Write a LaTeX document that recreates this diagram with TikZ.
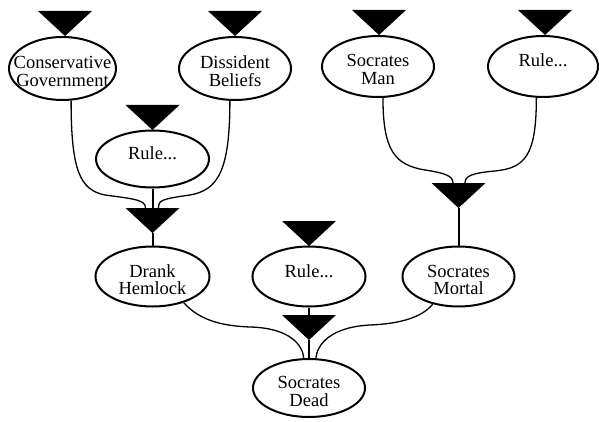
\documentclass[tikz,border=0pt]{standalone}
\usepackage{fontspec}
\setmainfont{Liberation Serif}
\usetikzlibrary{shapes.geometric,calc}

% filled downward triangle: #1 = name of its tip, #2 = tip position;
% (#1-in) is the middle of its top edge
\newcommand\gatetri[2]{%
  \coordinate (#1) at #2;
  \fill (#1) -- ++(-27,-25) -- ++(54,0) -- cycle;
  \coordinate (#1-in) at ($(#1)+(0,-25)$);}

\begin{document}
\begin{tikzpicture}[x=1pt,y=-1pt,
  prop/.style={ellipse, draw, line width=2pt, fill=white,
    inner xsep=-20pt, inner ysep=0pt, align=center,
    font=\fontsize{18.5}{17.5}\selectfont,
    text height=18.5pt, text depth=17.5pt},
  % two-line labels: box reference sits on the last line
  prop2/.style={prop, text height=36pt, text depth=0pt},
  link/.style={line width=1.3pt},
  stem/.style={line width=2pt}]

\fill[white] (0,0) rectangle (599,422);
\useasboundingbox (0,0) rectangle (599,422);

% propositions
\node[prop2, minimum width=107pt, minimum height=63pt] (cg)  at (62.5,68.5)  {Conservative\\Government};
\node[prop2, minimum width=112pt, minimum height=63pt] (db)  at (235,68.5)   {Dissident\\Beliefs};
\node[prop,  minimum width=113pt, minimum height=57pt] (rl)  at (152.5,159)  {Rule...};
\node[prop2, minimum width=112pt, minimum height=61pt] (sm)  at (378,66.5)   {Socrates\\Man};
\node[prop,  minimum width=110pt, minimum height=61pt] (tr)  at (543,66.5)   {Rule...};
\node[prop2, minimum width=114pt, minimum height=60pt] (dh)  at (152.5,276.5){Drank\\Hemlock};
\node[prop,  minimum width=113pt, minimum height=60pt] (rm)  at (309,276.5)  {Rule...};
\node[prop2, minimum width=112pt, minimum height=60pt] (smo) at (458.5,276.5){Socrates\\Mortal};
\node[prop2, minimum width=112pt, minimum height=58pt] (sd)  at (309,388)    {Socrates\\Dead};

% triangles
\gatetri{gA}{(65,36)}
\gatetri{gB}{(235,36)}
\gatetri{gC}{(152.5,130)}
\gatetri{gD}{(379,35)}
\gatetri{gE}{(545,35)}
\gatetri{gM}{(309,246)}
\gatetri{gL}{(152.5,233)}
\gatetri{gR}{(458.5,208)}
\gatetri{gS}{(309,340)}

% straight stems
\draw[stem] (rl.south) -- (gL-in);
\draw[stem] (gL) -- (dh.north);
\draw[stem] (gR) -- (smo.north);
\draw[stem] (rm.south) -- (gS-in);
\draw[stem] (gS) -- (sd.north);

% curved links
\draw[link] (cg.-75) .. controls +(0,70) and +(-25,-5) .. ($(gL-in)+(-47.5,-13)$)
  .. controls +(30,4) and +(0,-8) .. ($(gL-in)+(-7,0)$);
\draw[link] (db.-99) .. controls +(0,70) and +(28,-5) .. ($(gL-in)+(37.5,-13)$)
  .. controls +(-28,4) and +(0,-8) .. ($(gL-in)+(6,0)$);
\draw[link] (sm.-81) .. controls +(0,53) and +(-30,-5) .. ($(gR-in)+(-33.5,-13)$)
  .. controls +(20,3) and +(0,-7) .. ($(gR-in)+(-5.5,0)$);
\draw[link] (tr.-102) .. controls +(0,58) and +(30,-3) .. ($(gR-in)+(36.5,-12)$)
  .. controls +(-23,2) and +(0,-7) .. ($(gR-in)+(6.5,0)$);
\draw[link] (dh.-40) .. controls +(17,19) and +(-25,-1) .. ($(gS)+(-59,-13)$)
  .. controls +(40,1) and +(-1,-13) .. (sd.100);
\draw[link] (smo.-133) .. controls +(-12,15) and +(25,-1) .. ($(gS)+(61,-15)$)
  .. controls +(-40,2) and +(1,-13) .. (sd.77);
\end{tikzpicture}
\end{document}
